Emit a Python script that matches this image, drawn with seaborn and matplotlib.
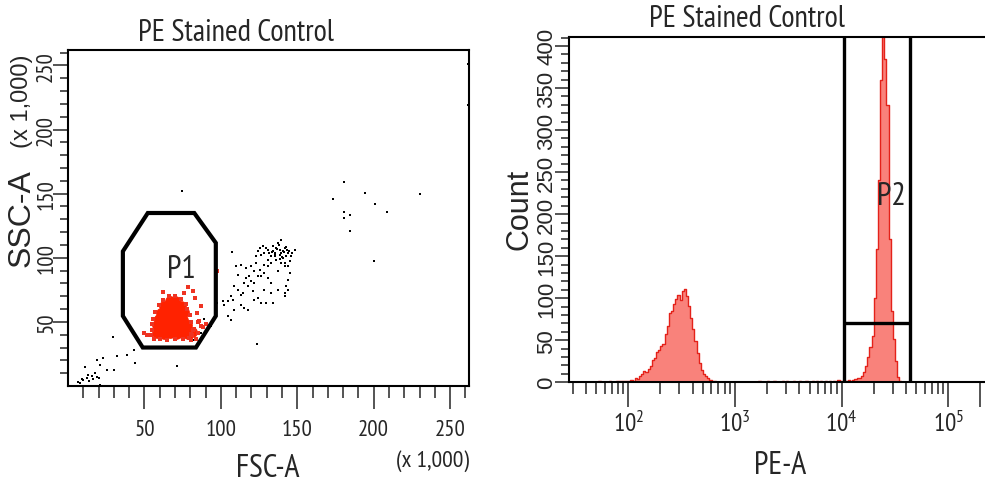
import numpy as np
import matplotlib
matplotlib.use("Agg")
import matplotlib.pyplot as plt
import seaborn as sns
from matplotlib import font_manager as fm
from matplotlib.ticker import (FixedLocator, LogLocator, LogFormatterSciNotation,
                               NullFormatter)
from matplotlib.patches import Polygon

# ---------------- data ----------------
chart_title = "PE Stained Control"

# Left panel: FSC-A / SSC-A (x 1,000) events outside P1 (black)
fsc_black = [6.8, 10, 12.7, 15.6, 18.9, 21, 11.2, 18.9, 23.2, 25.5, 29.8, 32, 38.6, 43, 17.8, 21,
             8, 9, 14, 16.5, 20, 13,
             74.8, 173.5, 180.7, 194, 230.5, 200.9, 209, 180.7, 180.7, 184.4, 184.4, 200.4, 123.7,
             71, 261.5, 261.5, 44, 29.4, 107,
             97.8, 101.1, 104.4, 107.7, 104.4, 106.6, 108.8, 113.2, 115.4, 117.6, 122, 124.2, 126.3,
             129.6, 134, 108.8, 113.2, 114.3, 117.6, 119.8, 122, 126.3, 128.5, 130.7, 132.9, 137.3,
             141.7, 142.8, 143.9, 145, 141.7, 139.5, 137.3, 113.2, 116.5, 119.8, 123, 125.3, 128.5,
             130.7, 132.9, 135.1, 138.4, 141.7, 143.9, 146.1, 148.3, 140.6, 136.2, 132.9, 125.3,
             127.5, 130.7, 134, 137.3, 139.5, 128.5, 123, 124.2, 131.8, 135.1, 139.5, 142.8, 145,
             122, 118.7, 116.5, 111, 109.9, 115.4, 111, 136.2, 138.4, 140.6, 134, 129.6, 126.3,
             141.7, 143.9, 130.7, 124.2, 120.9, 128.5, 132.9, 141.7, 143.9, 106.6, 102.2,
             91.3, 86.9, 82.5, 89, 93.5,
             133.5, 136.8, 139, 141.2, 143.4, 137.9, 135.6, 140.1, 142.3, 144.5, 138.6, 146.8]
ssc_black = [3.4, 4.7, 6, 7.8, 7.3, 0.8, 15.1, 20.3, 21.6, 12.5, 12.5, 23.4, 24.2, 28.1, 9.9, 16.4,
             2.5, 5.5, 4, 5.5, 6, 8.5,
             152, 146, 159, 150.5, 150, 142, 135.7, 135.7, 131, 133.6, 121, 97.7, 32.6,
             15.6, 250.8, 219.5, 17.7, 38.5, 104.5,
             64.6, 65.9, 65.9, 67.2, 54.2, 51.6, 59.4, 63.3, 60.7, 59.4, 67.2, 68.5, 64.6,
             64.6, 64.6, 77.6, 71.1, 72.4, 77.6, 81.6, 80.2, 85.5, 88.1, 84.2, 80.2, 75,
             72.4, 77.6, 82.8, 88.1, 93.3, 95.9, 89.4, 94.6, 92, 93.3, 95.9, 90.7, 94.6,
             98.5, 101.1, 103.7, 106.3, 107.6, 103.7, 101.1, 106.3, 99.8, 98.5, 95.9, 107.6,
             108.9, 106.3, 108.9, 111.5, 114.1, 103.7, 101.1, 105, 103.7, 101.1, 103.7, 101.1, 97.2,
             89.4, 85.5, 84.2, 86.8, 93.3, 80.2, 75, 107.6, 102.4, 105, 105, 107.6, 102.4,
             95.9, 93.3, 93.3, 85.5, 73.7, 75, 72.4, 69.8, 75, 69.8, 63.3,
             45.1, 41.2, 36, 52, 46.8,
             104.8, 106.9, 102.1, 104.3, 106.2, 109.7, 103.2, 100.4, 108.3, 104.9, 98.8, 103.5]

# P1 population, dense core (red)
fsc_p1_core = [58.5, 62.5, 66.5, 70.5, 74.5, 78.5, 81,
               58, 62.5, 66.5, 70.5, 74.5, 78,
               59.5, 63.5, 67.5, 71.5, 75.5,
               61, 65, 69, 73, 76,
               63, 67, 71, 74,
               66.5, 70]
ssc_p1_core = [41.5, 40.5, 41, 40.5, 41.5, 40.5, 42,
               47.5, 46.5, 47.5, 46.5, 47, 47.5,
               52, 52.5, 51.5, 52.5, 51.5,
               57, 56.5, 57.5, 56.5, 57.5,
               62, 62.5, 61.5, 62,
               66, 66.5]
# P1 population, sparse events (red)
fsc_p1_sparse = [55, 54.5, 56, 60, 65, 70, 75, 79, 81, 81.5, 80.5, 79.5, 78, 77, 74, 70, 66, 62,
                 59.5, 57, 55.5, 55, 49.5, 84.5, 86.8, 83, 78.5, 76, 88, 97.4, 80.3, 52, 85,
                 82, 62, 90, 80.4, 82.6, 84.8, 87, 85.9, 83.7]
ssc_p1_sparse = [44, 40, 37, 36.5, 36, 37, 36.5, 37.5, 40, 44, 50, 55, 60, 64, 68, 70.5, 70, 67,
                 63, 58, 52, 48, 41, 57, 62, 68.5, 77, 72.4, 46.3, 89.3, 36, 40, 50,
                 74, 73, 48, 40.4, 44.3, 41.7, 46.8, 50.7, 36.9]

# P1 gate vertices (x 1,000)
p1_gate_fsc = [52.2, 82.6, 96.7, 96.7, 83.7, 48.9, 35.9, 35.9]
p1_gate_ssc = [134.9, 134.9, 111.6, 54.6, 30.0, 30.0, 54.6, 105.0]
p1_label_xy = (73.9, 91.3)

# Right panel: PE-A histogram (log10 bin centre, count)
pe_log_center = [1.73, 1.83, 1.89, 1.91, 1.93, 1.95, 1.97, 1.99,
                 2.01, 2.03, 2.05, 2.07, 2.09, 2.11, 2.13, 2.15, 2.17, 2.19, 2.21, 2.23, 2.25,
                 2.27, 2.29, 2.31, 2.33, 2.35, 2.37, 2.39, 2.41, 2.43, 2.45, 2.47, 2.49, 2.51,
                 2.53, 2.55, 2.57, 2.59, 2.61, 2.63, 2.65, 2.67, 2.69, 2.71, 2.73, 2.75, 2.77,
                 2.79, 2.81,
                 3.23, 3.31, 3.37, 3.45, 3.49, 3.55, 3.61, 3.67, 3.73, 3.77, 3.81, 3.85, 3.89,
                 3.93, 3.97, 3.99,
                 4.03, 4.05, 4.07, 4.09, 4.11, 4.13, 4.15, 4.17, 4.19, 4.21, 4.23, 4.25, 4.27,
                 4.29, 4.31, 4.33, 4.35, 4.37, 4.39, 4.41, 4.43, 4.45, 4.47, 4.49, 4.51, 4.53,
                 4.55]
pe_count = [1, 2, 1, 2, 2, 1, 2, 2,
            2, 3, 2, 5, 4, 7, 10, 13, 12, 16, 19, 26, 29,
            36, 38, 43, 46, 58, 67, 82, 85, 93, 99, 104, 98, 109,
            111, 103, 91, 77, 63, 49, 35, 23, 15, 10, 7, 5, 3,
            2, 1,
            1, 2, 1, 2, 1, 2, 1, 2, 1, 2, 1, 2, 1,
            2, 3, 1,
            2, 1, 3, 2, 3, 4, 5, 5, 8, 12, 19, 30, 42,
            55, 100, 158, 240, 360, 440, 385, 330, 170, 85, 52, 25, 6,
            1]
p2_gate_pe = [10520, 44200]
p2_gate_count = 70.5
p2_label_xy = (29300, 222)

left_major = [50, 100, 150, 200, 250]
left_minor = list(range(10, 261, 10))
right_y_major = [0, 50, 100, 150, 200, 250, 300, 350, 400]
right_y_minor = list(range(0, 411, 10))
right_x_major = [1e2, 1e3, 1e4, 1e5, 2e5]

# ---------------- style ----------------
sns.set_style("ticks")
_avail = {f.name for f in fm.fontManager.ttflist}
_narrow_candidates = ['Liberation Sans Narrow', 'Arial Narrow', 'PT Sans Narrow',
                      'Archivo Narrow', 'Roboto Condensed', 'Pragati Narrow',
                      'Sofia Sans Condensed', 'Fira Sans Condensed',
                      'Encode Sans Condensed', 'Open Sans Condensed', 'Liberation Sans']
NARROW_FONT = next(c for c in _narrow_candidates if c in _avail)
NARROW = [NARROW_FONT, 'DejaVu Sans']
REG = ['Liberation Sans', 'DejaVu Sans']
plt.rcParams['font.family'] = NARROW
plt.rcParams['mathtext.fontset'] = 'custom'
plt.rcParams['mathtext.rm'] = NARROW_FONT
plt.rcParams['mathtext.default'] = 'regular'
plt.rcParams['axes.linewidth'] = 1.5
plt.rcParams['axes.edgecolor'] = 'black'

RED_CORE = '#FF2200'
RED_SPARSE = '#EE3322'
HIST_FILL = '#F9827B'
HIST_EDGE = '#E4221A'

W, H = 985, 485
fig = plt.figure(figsize=(W / 100, H / 100), dpi=100)


def box(l, t, r, b):
    return [l / W, 1 - b / H, (r - l) / W, (b - t) / H]


ax1 = fig.add_axes(box(68, 51, 468.5, 387))
ax2 = fig.add_axes(box(569, 38, 985, 383.3))

# ---------------- left: dot plot ----------------
sns.scatterplot(x=fsc_black, y=ssc_black, color='black', s=4, marker='s',
                linewidth=0, ax=ax1, zorder=2)
sns.scatterplot(x=fsc_p1_core, y=ssc_p1_core, color=RED_CORE, s=60, marker='o',
                linewidth=0, ax=ax1, zorder=2)
sns.scatterplot(x=fsc_p1_sparse, y=ssc_p1_sparse, color=RED_SPARSE, s=5, marker='s',
                linewidth=0, ax=ax1, zorder=2)
ax1.add_patch(Polygon(list(zip(p1_gate_fsc, p1_gate_ssc)), closed=True, fill=False,
                      edgecolor='black', linewidth=3, joinstyle='miter', zorder=3))
ax1.text(*p1_label_xy, "P1", fontsize=23, ha='center', va='center', zorder=4)

ax1.set_xlim(0, 262)
ax1.set_ylim(0, 262)
ax1.xaxis.set_major_locator(FixedLocator(left_major))
ax1.xaxis.set_minor_locator(FixedLocator(left_minor))
ax1.yaxis.set_major_locator(FixedLocator(left_major))
ax1.yaxis.set_minor_locator(FixedLocator(left_minor))
ax1.tick_params(axis='x', which='major', length=16.5, width=1.1, pad=7, labelsize=16.5)
ax1.tick_params(axis='x', which='minor', length=8.6, width=1.1)
ax1.tick_params(axis='y', which='major', length=10.8, width=1.1, pad=-3, labelsize=16.5)
ax1.tick_params(axis='y', which='minor', length=5.8, width=1.1)
plt.setp(ax1.get_yticklabels(), rotation=90, va='center', ha='right')
ax1.set_xlabel("")
ax1.set_ylabel("")
ax1.text(0.419, 1.054, chart_title, transform=ax1.transAxes, fontsize=22,
         ha='center', va='center')
ax1.text(0.498, -0.2455, "FSC-A", transform=ax1.transAxes, fontsize=23,
         ha='center', va='center')
ax1.text(0.909, -0.220, "(x 1,000)", transform=ax1.transAxes, fontsize=17,
         ha='center', va='center')
ax1.text(-0.115, 0.5015, "SSC-A", transform=ax1.transAxes, fontsize=23, rotation=90,
         ha='center', va='center', family=REG)
ax1.text(-0.115, 0.85, "(x 1,000)", transform=ax1.transAxes, fontsize=17, rotation=90,
         ha='center', va='center', family=REG)

# ---------------- right: histogram ----------------
sns.histplot(x=10 ** np.asarray(pe_log_center), weights=pe_count, binwidth=0.02,
             binrange=(1.44, 5.36), log_scale=True, element='step', fill=True,
             color=HIST_FILL, edgecolor=HIST_EDGE, linewidth=1.0, alpha=1, ax=ax2, zorder=2)
ax2.set_xlim(10 ** 1.444, 10 ** 5.344)
ax2.set_ylim(0, 410.6)
for xg in p2_gate_pe:
    ax2.axvline(xg, color='black', linewidth=2.4, zorder=4)
ax2.hlines(p2_gate_count, p2_gate_pe[0], p2_gate_pe[1], color='black',
           linewidth=2.4, zorder=4)
ax2.text(*p2_label_xy, "P2", fontsize=23, ha='center', va='center', zorder=5)

ax2.spines['right'].set_visible(False)
ax2.xaxis.set_major_locator(FixedLocator(right_x_major))
ax2.xaxis.set_major_formatter(LogFormatterSciNotation(labelOnlyBase=True))
ax2.xaxis.set_minor_locator(LogLocator(base=10, subs=np.arange(2, 10), numticks=30))
ax2.xaxis.set_minor_formatter(NullFormatter())
ax2.yaxis.set_major_locator(FixedLocator(right_y_major))
ax2.yaxis.set_minor_locator(FixedLocator(right_y_minor))
ax2.tick_params(axis='x', which='major', length=18, width=1.1, pad=2, labelsize=18)
ax2.tick_params(axis='x', which='minor', length=8.6, width=1.1)
ax2.tick_params(axis='y', which='major', length=10, width=1.1, pad=-1.5, labelsize=16)
ax2.tick_params(axis='y', which='minor', length=5.5, width=1.1)
plt.setp(ax2.get_yticklabels(), rotation=90, va='center', ha='right', family=REG)
ax2.set_xlabel("")
ax2.set_ylabel("")
ax2.text(0.428, 1.0536, chart_title, transform=ax2.transAxes, fontsize=22,
         ha='center', va='center')
ax2.text(0.508, -0.2395, "PE-A", transform=ax2.transAxes, fontsize=23,
         ha='center', va='center')
ax2.text(-0.120, 0.505, "Count", transform=ax2.transAxes, fontsize=22, rotation=90,
         ha='center', va='center', family=REG)

fig.savefig("out.png", dpi=100)
